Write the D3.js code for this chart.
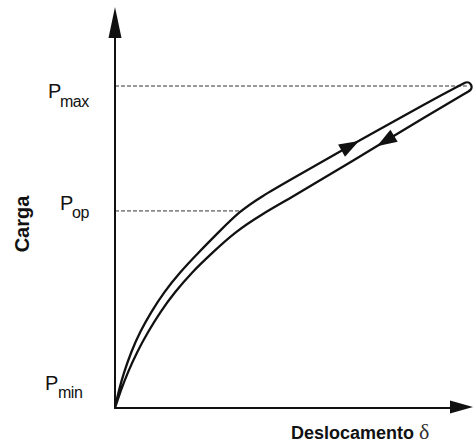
<!DOCTYPE html>
<html>
<head>
<meta charset="utf-8">
<script src="https://cdn.jsdelivr.net/npm/d3@7"></script>
<style>
  html, body { margin: 0; padding: 0; background: #fff; }
  svg { display: block; }
</style>
</head>
<body>
<svg id="chart" width="473" height="446"></svg>
<script>
// ---------------- data ----------------
// load levels (arbitrary units, Pmin = 0, Pmax = 100)
const levelNames = ["max", "op", "min"];
const levelValues = [100, 61.2, 0];

// loading branch (displacement, load)
const loadingCurve = [
  [0, 0], [1.1, 5.6], [2.6, 11.2], [4.6, 17.4], [7.1, 23.6], [10.3, 29.8],
  [14, 36], [18.6, 42.2], [23.7, 48.1], [29.7, 54.7], [35.7, 61.2],
  [42, 65.8], [50, 70.8], [67.1, 81.4], [90, 95.3], [100, 101]
];
// unloading branch (displacement, load)
const unloadingCurve = [
  [101.1, 98.4], [90, 91.3], [67.1, 76.2], [50, 65.1], [42, 60.2],
  [34.3, 54.7], [27.4, 47.8], [22, 42.2], [17.1, 36], [12.9, 29.8],
  [9.4, 23.6], [6.3, 17.4], [3.7, 11.2], [1.7, 5.6], [0, 0]
];
// direction arrows: displacement where the arrow tip sits, branch
const arrowDisp = [69.7, 74.9];
const arrowBranch = ["loading", "unloading"];

const xLabel = "Deslocamento ";
const xSymbol = "δ";
const yLabel = "Carga";

// ---------------- layout ----------------
const svg = d3.select("#chart");
const ink = "#111";
const x = d3.scaleLinear().domain([0, 100]).range([115, 465]);
const y = d3.scaleLinear().domain([0, 100]).range([408, 86]);

// dashed reference lines
const dashEnd = { max: 100.5, op: 35.7 };
levelNames.forEach((n, i) => {
  if (dashEnd[n] === undefined) return;
  svg.append("line")
    .attr("x1", x(0)).attr("x2", x(dashEnd[n]))
    .attr("y1", y(levelValues[i])).attr("y2", y(levelValues[i]))
    .attr("stroke", "#333").attr("stroke-width", 1)
    .attr("stroke-dasharray", "4,2");
});

// axes
const axisTop = 7, axisRight = 473;
svg.append("line").attr("x1", x(0)).attr("y1", y(0)).attr("x2", x(0)).attr("y2", axisTop + 20)
  .attr("stroke", ink).attr("stroke-width", 2);
svg.append("line").attr("x1", x(0) - 1).attr("y1", y(0)).attr("x2", axisRight - 18).attr("y2", y(0))
  .attr("stroke", ink).attr("stroke-width", 2);
svg.append("path")
  .attr("d", `M${x(0)},${axisTop} L${x(0) - 6.5},${axisTop + 31} L${x(0) + 6.5},${axisTop + 31} Z`)
  .attr("fill", ink);
svg.append("path")
  .attr("d", `M${axisRight},${y(0) - 1} L${axisRight - 23},${y(0) - 7.5} L${axisRight - 23},${y(0) + 5.5} Z`)
  .attr("fill", ink);

// cycle curve: loading branch, round turn, unloading branch
const line = d3.line().x(d => x(d[0])).y(d => y(d[1])).curve(d3.curveBasis);
const u = loadingCurve[loadingCurve.length - 1];
const l = unloadingCurve[0];
const r = Math.hypot(x(l[0]) - x(u[0]), y(l[1]) - y(u[1])) / 2;
const dPath = line(loadingCurve)
  + `A${r},${r} 0 0 1 ${x(l[0])},${y(l[1])}`
  + line(unloadingCurve).replace(/^M[^A-Za-z]*/, "");
const loadPath = svg.append("path")
  .attr("d", dPath)
  .attr("fill", "none").attr("stroke", ink).attr("stroke-width", 2.3)
  .attr("stroke-linejoin", "round");

// arrows placed on the drawn path
const node = loadPath.node();
const total = node.getTotalLength();
const samples = d3.range(0, total, 0.5).map(len => {
  const p = node.getPointAtLength(len);
  return { l: len, x: p.x, y: p.y };
});
const turnL = samples.reduce((a, b) => (b.x > a.x ? b : a)).l;

arrowDisp.forEach((dv, i) => {
  const px = x(dv);
  const branch = arrowBranch[i];
  const cand = samples.filter(s => branch === "loading" ? s.l < turnL : s.l > turnL);
  const best = cand.reduce((a, b) => Math.abs(b.x - px) < Math.abs(a.x - px) ? b : a);
  const p0 = node.getPointAtLength(Math.max(0, best.l - 2));
  const p1 = node.getPointAtLength(Math.min(total, best.l + 2));
  const ang = Math.atan2(p1.y - p0.y, p1.x - p0.x);
  const L = 20, W = 7;
  const tx = best.x, ty = best.y;
  const bx = tx - L * Math.cos(ang), by = ty - L * Math.sin(ang);
  const nx = -Math.sin(ang), ny = Math.cos(ang);
  svg.append("path")
    .attr("d", `M${tx},${ty} L${bx + W * nx},${by + W * ny} L${bx - W * nx},${by - W * ny} Z`)
    .attr("fill", ink);
});

// level labels (P with subscript)
const labelPos = {
  max: { px: 48, base: 98, sx: 60, sbase: 107 },
  op:  { px: 60, base: 210, sx: 72, sbase: 218 },
  min: { px: 45, base: 390, sx: 58, sbase: 398 }
};
levelNames.forEach(n => {
  const p = labelPos[n];
  svg.append("text").attr("x", p.px).attr("y", p.base)
    .attr("font-family", "Liberation Sans, Arial, sans-serif").attr("font-size", 20)
    .attr("fill", ink).text("P");
  svg.append("text").attr("x", p.sx).attr("y", p.sbase)
    .attr("font-family", "Liberation Sans, Arial, sans-serif").attr("font-size", 16)
    .attr("letter-spacing", -0.5)
    .attr("fill", ink).text(n);
});

// axis titles
svg.append("text")
  .attr("transform", "translate(29,224) rotate(-90)")
  .attr("text-anchor", "middle")
  .attr("font-family", "Liberation Sans, Arial, sans-serif").attr("font-size", 20)
  .attr("font-weight", "bold").attr("fill", ink).text(yLabel);

const xt = svg.append("text").attr("x", 291).attr("y", 439)
  .attr("font-family", "Liberation Sans, Arial, sans-serif").attr("fill", ink);
xt.append("tspan").attr("font-size", 18).attr("font-weight", "bold").text(xLabel);
xt.append("tspan").attr("font-family", "Liberation Serif, Times New Roman, serif")
  .attr("font-size", 22).attr("fill", "#333").text(xSymbol);
</script>
</body>
</html>
